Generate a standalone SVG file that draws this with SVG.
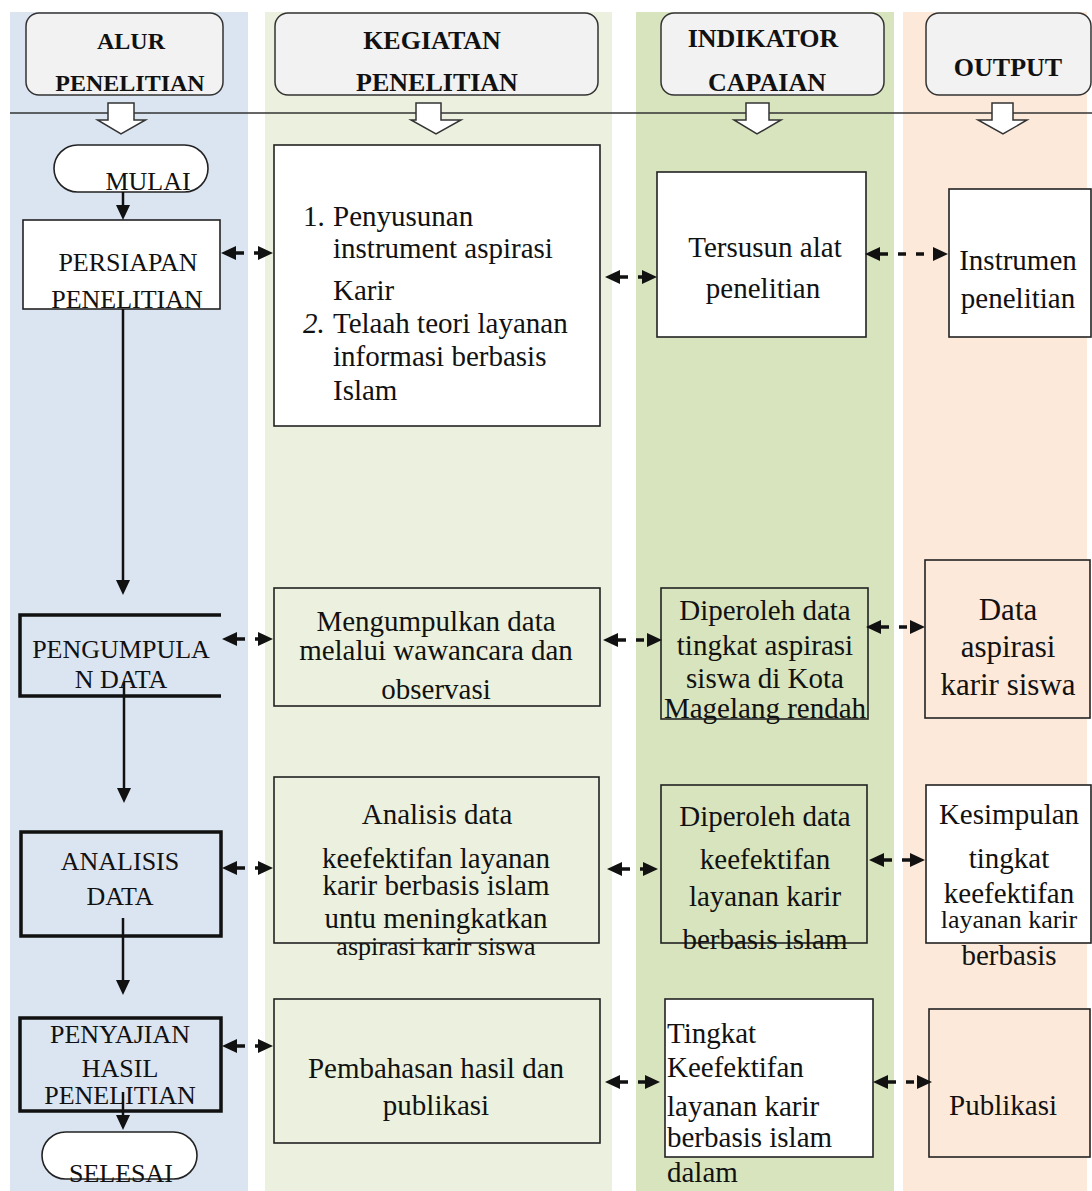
<svg xmlns="http://www.w3.org/2000/svg" width="1092" height="1191" viewBox="0 0 1092 1191">
<style>
text{font-family:"Liberation Serif","Times New Roman",serif;fill:#111}
.h{font-weight:bold;font-size:26px;text-anchor:middle}
.t{font-size:29px;text-anchor:middle}
.tl{font-size:29px}
.s{font-size:26px;text-anchor:middle}
.hb{fill:#f2f2f2;stroke:#333;stroke-width:1.5}
.b{stroke:#222;stroke-width:1.6}
.bk{stroke:#111;stroke-width:3.5}
.da{stroke:#111;stroke-width:3.5;stroke-dasharray:8 10;fill:none;marker-start:url(#ah);marker-end:url(#ah)}
.fl{stroke:#111;stroke-width:2.5;fill:none;marker-end:url(#ah)}
.ba{fill:#fff;stroke:#333;stroke-width:1.5}
</style>
<defs>
<marker id="ah" markerUnits="userSpaceOnUse" markerWidth="16" markerHeight="16" refX="0" refY="7" orient="auto-start-reverse" viewBox="0 0 16 14">
<path d="M0,0 L15,7 L0,14 z" fill="#111"/>
</marker>
</defs>
<rect width="1092" height="1191" fill="#fff"/>
<g id="lanes">
<rect x="10" y="12" width="238" height="1179" fill="#dbe5f1"/>
<rect x="265" y="12" width="347" height="1179" fill="#ebf1de"/>
<rect x="636" y="12" width="258" height="1179" fill="#d7e4bd"/>
<rect x="903" y="12" width="184" height="1179" fill="#fde9d9"/>
</g>
<line x1="10" y1="113" x2="1092" y2="113" stroke="#333" stroke-width="1.5"/>
<g id="headers">
<g id="h-alur"><rect class="hb" x="26" y="13" width="197" height="82" rx="13"/><text class="h" x="131" y="49" style="font-size:24px">ALUR</text><text class="h" x="130" y="91" style="font-size:24px">PENELITIAN</text></g>
<g id="h-kegiatan"><rect class="hb" x="275" y="13" width="323" height="82" rx="13"/><text class="h" x="432" y="49">KEGIATAN</text><text class="h" x="437" y="91">PENELITIAN</text></g>
<g id="h-indikator"><rect class="hb" x="661" y="13" width="223" height="82" rx="13"/><text class="h" x="763" y="47">INDIKATOR</text><text class="h" x="767" y="91">CAPAIAN</text></g>
<g id="h-output"><rect class="hb" x="926" y="13" width="165" height="82" rx="13"/><text class="h" x="1008" y="76">OUTPUT</text></g>
</g>
<g id="block-arrows">
<path class="ba" d="M108,103 H134 V120 H145.5 L121,134 L97.5,120 H108 Z"/>
<path class="ba" d="M416,103 H441 V120 H461 L436,134 L411,120 H416 Z"/>
<path class="ba" d="M746,103 H769 V120 H781 L757,134 L734,120 H746 Z"/>
<path class="ba" d="M992,103 H1013 V120 H1027 L1003,134 L978,120 H992 Z"/>
</g>
<g id="n-mulai"><rect x="54" y="145" width="154" height="47" rx="23.5" fill="#fff" stroke="#222" stroke-width="1.6"/><text class="s" x="148" y="190">MULAI</text></g>
<g id="n-persiapan"><rect class="b" x="23" y="220" width="197" height="89" fill="#fff"/><text class="s" x="128" y="271">PERSIAPAN</text><text class="s" x="127" y="308">PENELITIAN</text></g>
<g id="n-pengumpulan"><path class="bk" d="M221,615 H20 V696 H221" fill="#dbe5f1"/><text class="s" x="121" y="658">PENGUMPULA</text><text class="s" x="121" y="688">N DATA</text></g>
<g id="n-analisis"><rect class="bk" x="21" y="832" width="200" height="104" fill="#dbe5f1"/><text class="s" x="120" y="870">ANALISIS</text><text class="s" x="120" y="905">DATA</text></g>
<g id="n-penyajian"><rect class="bk" x="20" y="1018" width="201" height="93" fill="#dbe5f1"/><text class="s" x="120" y="1043">PENYAJIAN</text><text class="s" x="120" y="1077">HASIL</text><text class="s" x="120" y="1104">PENELITIAN</text></g>
<g id="n-selesai"><rect x="42" y="1132" width="155" height="47" rx="23.5" fill="#fff" stroke="#222" stroke-width="1.6"/><text class="s" x="121" y="1182">SELESAI</text></g>

<g id="n-k1"><rect class="b" x="274" y="145" width="326" height="281" fill="#fff"/>
<text class="tl" x="303" y="226">1.</text><text class="tl" x="333" y="226">Penyusunan</text>
<text class="tl" x="333" y="258">instrument aspirasi</text>
<text class="tl" x="333" y="300">Karir</text>
<text class="tl" x="303" y="333" font-style="italic">2.</text><text class="tl" x="333" y="333">Telaah teori layanan</text>
<text class="tl" x="333" y="366">informasi berbasis</text>
<text class="tl" x="333" y="400">Islam</text></g>
<g id="n-k2"><rect class="b" x="274" y="588" width="326" height="118" fill="#ebf1de"/>
<text class="t" x="436" y="631">Mengumpulkan data</text><text class="t" x="436" y="660">melalui wawancara dan</text><text class="t" x="436" y="699">observasi</text></g>
<g id="n-k3"><rect class="b" x="274" y="777" width="325" height="166" fill="#ebf1de"/>
<text class="t" x="437" y="824">Analisis data</text><text class="t" x="436" y="868">keefektifan layanan</text><text class="t" x="436" y="895">karir berbasis islam</text><text class="t" x="436" y="928">untu meningkatkan</text><text class="s" x="436" y="955">aspirasi karir siswa</text></g>
<g id="n-k4"><rect class="b" x="274" y="999" width="326" height="144" fill="#ebf1de"/>
<text class="t" x="436" y="1078">Pembahasan hasil dan</text><text class="t" x="436" y="1115">publikasi</text></g>

<g id="n-i1"><rect class="b" x="657" y="172" width="209" height="165" fill="#fff"/><text class="t" x="765" y="257">Tersusun alat</text><text class="t" x="763" y="298">penelitian</text></g>
<g id="n-i2"><rect class="b" x="661" y="588" width="207" height="131" fill="#d7e4bd"/>
<text class="t" x="765" y="620">Diperoleh data</text><text class="t" x="765" y="655">tingkat aspirasi</text><text class="t" x="765" y="688">siswa di Kota</text><text class="t" x="765" y="718">Magelang rendah</text></g>
<g id="n-i3"><rect class="b" x="661" y="785" width="206" height="158" fill="#d7e4bd"/>
<text class="t" x="765" y="826">Diperoleh data</text><text class="t" x="765" y="869">keefektifan</text><text class="t" x="765" y="906">layanan karir</text><text class="t" x="765" y="949">berbasis islam</text></g>
<g id="n-i4"><rect class="b" x="665" y="999" width="208" height="158" fill="#fff"/>
<text class="tl" x="667" y="1043">Tingkat</text><text class="tl" x="667" y="1077">Keefektifan</text><text class="tl" x="667" y="1116">layanan karir</text><text class="tl" x="667" y="1147">berbasis islam</text><text class="tl" x="667" y="1182">dalam</text></g>

<g id="n-o1"><rect class="b" x="949" y="189" width="142" height="148" fill="#fff"/><text class="t" x="1018" y="270">Instrumen</text><text class="t" x="1018" y="308">penelitian</text></g>
<g id="n-o2"><rect class="b" x="925" y="560" width="165" height="158" fill="#fde9d9"/>
<text class="t" x="1008" y="620" style="font-size:31px">Data</text><text class="t" x="1008" y="657" style="font-size:31px">aspirasi</text><text class="t" x="1008" y="695" style="font-size:31px">karir siswa</text></g>
<g id="n-o3"><rect class="b" x="926" y="785" width="165" height="158" fill="#fff"/>
<text class="t" x="1009" y="824">Kesimpulan</text><text class="t" x="1009" y="868">tingkat</text><text class="t" x="1009" y="903">keefektifan</text><text class="s" x="1009" y="928">layanan karir</text><text class="t" x="1009" y="965">berbasis</text></g>
<g id="n-o4"><rect class="b" x="929" y="1009" width="161" height="148" fill="#fde9d9"/><text class="t" x="1003" y="1115">Publikasi</text></g>

<g id="connectors">
<line class="fl" x1="123" y1="192" x2="123" y2="205"/>
<line class="fl" x1="123" y1="309" x2="123" y2="580"/>
<line class="fl" x1="124" y1="682" x2="124" y2="788"/>
<line class="fl" x1="123" y1="918" x2="123" y2="980"/>
<line class="fl" x1="123" y1="1092" x2="123" y2="1115"/>

<line class="da" x1="236" y1="253" x2="258" y2="253"/>
<line class="da" x1="237" y1="639" x2="258" y2="639"/>
<line class="da" x1="237" y1="868" x2="258" y2="868"/>
<line class="da" x1="237" y1="1046" x2="258" y2="1046"/>

<line class="da" x1="620" y1="277" x2="642" y2="277"/>
<line class="da" x1="618" y1="640" x2="647" y2="640"/>
<line class="da" x1="622" y1="869" x2="643" y2="869"/>
<line class="da" x1="620" y1="1082" x2="645" y2="1082"/>

<line class="da" x1="880" y1="254" x2="933" y2="254"/>
<line class="da" x1="881" y1="627" x2="910" y2="627"/>
<line class="da" x1="884" y1="860" x2="910" y2="860"/>
<line class="da" x1="888" y1="1082" x2="917" y2="1082"/>
</g>
</svg>
